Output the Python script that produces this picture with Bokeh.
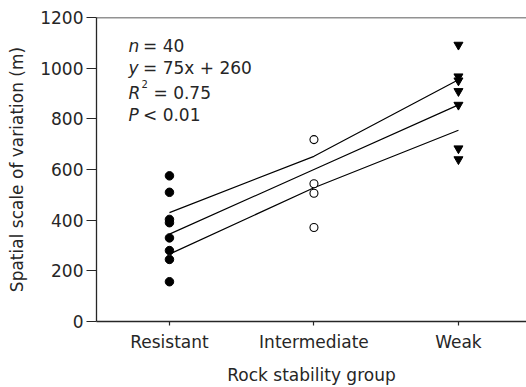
from bokeh.plotting import figure
from bokeh.models import (ColumnDataSource, FixedTicker, Range1d, Span, Label)
from bokeh.embed import file_html
from bokeh.resources import INLINE

# ---- data ----
categories = ["Resistant", "Intermediate", "Weak"]
resistant_y = [575, 510, 403, 390, 330, 280, 245, 157]
intermediate_y = [718, 544, 506, 371]
weak_y = [1092, 967, 951, 909, 855, 683, 640]
fit_center = [345, 600, 855]
fit_upper = [430, 652, 954]
fit_lower = [266, 528, 755]
y_ticks = [0, 200, 400, 600, 800, 1000, 1200]

FONT = "DejaVu Sans"
INK = "#262626"

p = figure(width=526, height=387, output_backend="svg", toolbar_location=None,
           x_range=Range1d(0.495, 3.471), y_range=Range1d(0, 1200),
           min_border_left=96, min_border_right=0, min_border_top=17,
           min_border_bottom=64)
p.outline_line_color = None
p.grid.grid_line_color = None
p.background_fill_color = "white"
p.border_fill_color = "white"

xs = [1, 2, 3]
for ys in (fit_upper, fit_center, fit_lower):
    p.line(xs, ys, line_color="black", line_width=1.2)

p.scatter([1] * len(resistant_y), resistant_y, marker="circle", size=8.5,
          fill_color="black", line_color="black")
p.scatter([2] * len(intermediate_y), intermediate_y, marker="circle", size=8,
          fill_color="white", line_color="black", line_width=1.1)
p.scatter([3] * len(weak_y), weak_y, marker="inverted_triangle", size=9,
          fill_color="black", line_color="black")

# top rule
p.add_layout(Span(location=1200, dimension="width", line_color=INK, line_width=1.3))

# axes
xa = p.xaxis[0]
xa.ticker = FixedTicker(ticks=xs)
xa.major_label_overrides = {i + 1: c for i, c in enumerate(categories)}
xa.axis_label = "Rock stability group"
ya = p.yaxis[0]
ya.ticker = FixedTicker(ticks=y_ticks)
ya.axis_label = "Spatial scale of variation (m)"

for ax in (xa, ya):
    ax.axis_line_color = INK
    ax.axis_line_width = 1.3
    ax.major_tick_line_color = INK
    ax.major_tick_line_width = 1.2
    ax.major_tick_in = 0
    ax.minor_tick_line_color = None
    ax.major_label_text_font = FONT
    ax.major_label_text_font_size = "17px"
    ax.major_label_text_color = INK
    ax.axis_label_text_font = FONT
    ax.axis_label_text_font_size = "17px"
    ax.axis_label_text_font_style = "normal"
    ax.axis_label_text_color = INK
xa.major_tick_out = 4
xa.major_label_standoff = 6
xa.axis_label_standoff = 10
ya.major_tick_out = 10
ya.major_label_standoff = 3
ya.axis_label_standoff = 10

# annotation block
def px_x(px):
    return 0.495 + (px - 96) / 144.5

def px_y(py):
    return (322.7 - py) / 0.255

rows = [("n", "= 40", 45), ("y", "= 75x + 260", 67.5), ("R", "= 0.75", 92.5), ("P", "< 0.01", 115)]
for it, rest, base in rows:
    p.add_layout(Label(x=px_x(128), y=px_y(base), text=it, text_font=FONT,
                       text_font_style="italic", text_font_size="17px",
                       text_color=INK, text_baseline="alphabetic"))
    rx = 153 if it == "R" else 142.5
    p.add_layout(Label(x=px_x(rx), y=px_y(base), text=rest, text_font=FONT,
                       text_font_size="17px", text_color=INK,
                       text_baseline="alphabetic"))
p.add_layout(Label(x=px_x(141), y=px_y(83.5), text="2", text_font=FONT,
                   text_font_size="10px", text_color=INK,
                   text_baseline="alphabetic"))

open("out.html", "w").write(file_html(p, INLINE))
